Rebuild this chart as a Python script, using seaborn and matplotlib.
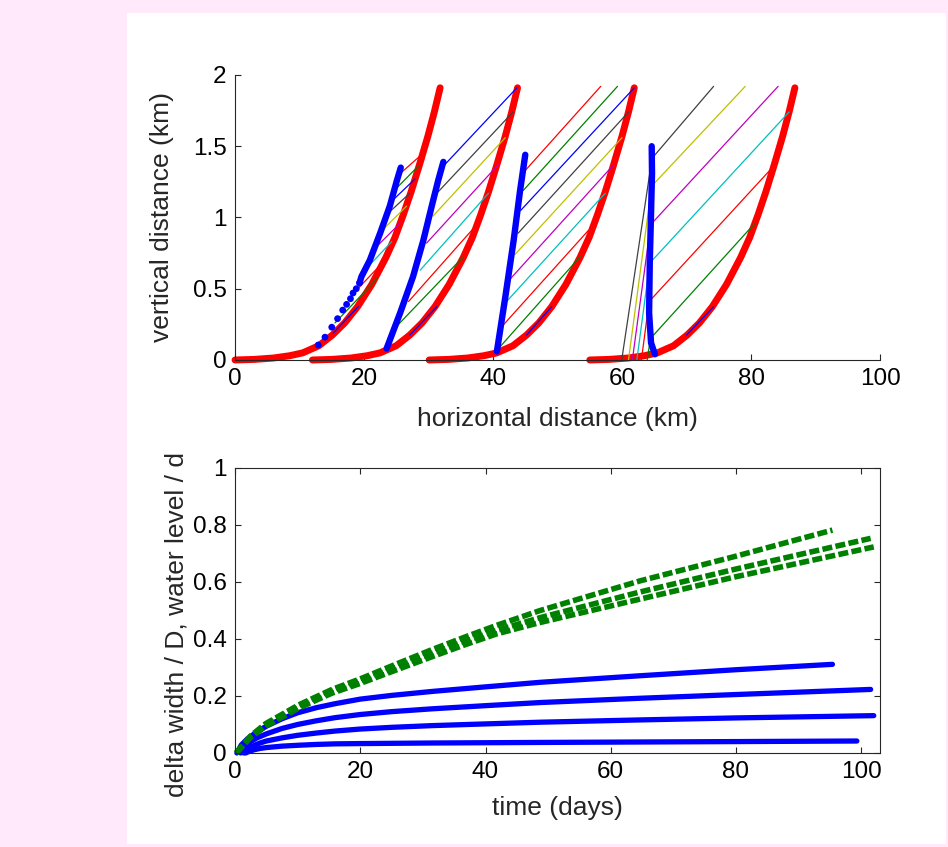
import matplotlib.pyplot as plt
import matplotlib.patches as mpatches
import pandas as pd
import seaborn as sns

# ---- top panel: bed profile (km), same shape for each snapshot, shifted in x
bed_x = [0, 3, 6, 8.5, 10.5, 13, 15.1, 17, 19.0, 21.2, 23.4, 24.8, 26.1, 27.3, 28.6, 29.9, 30.9, 31.8]
bed_y = [0, 0.004, 0.014, 0.03, 0.05, 0.1, 0.175, 0.26, 0.374, 0.53, 0.72, 0.86, 1.02, 1.18, 1.37, 1.57, 1.74, 1.91]
bed_shift = [0.0, 12.0, 30.1, 55.0]

# fronts (thick blue)
front1_dot_x = [12.9, 13.95, 15.0, 15.9, 16.7, 17.3, 17.9, 18.3, 18.8, 19.3]
front1_dot_y = [0.105, 0.16, 0.23, 0.29, 0.35, 0.39, 0.43, 0.47, 0.50, 0.54]
front1_x = [19.3, 19.6, 20.9, 22.5, 24.0, 25.1, 25.7]
front1_y = [0.54, 0.585, 0.70, 0.89, 1.08, 1.26, 1.35]
front2_x = [23.5, 25.6, 27.6, 29.2, 30.5, 31.5, 32.3]
front2_y = [0.08, 0.33, 0.585, 0.84, 1.08, 1.26, 1.39]
front3_x = [40.6, 41.9, 43.2, 44.2, 45.0]
front3_y = [0.06, 0.44, 0.84, 1.19, 1.44]
front4_x = [65.1, 64.5, 64.2, 64.3, 64.5, 64.65, 64.6]
front4_y = [0.04, 0.12, 0.33, 0.68, 1.03, 1.31, 1.50]

# thin foreset lines, colours cycle b g r c m y k
seg1_x0 = [15.2, 15.5, 18.0, 20.1, 21.6, 22.6, 23.5, 24.2, 24.7, 25.4]
seg1_y0 = [0.187, 0.26, 0.45, 0.63, 0.78, 0.90, 1.02, 1.11, 1.19, 1.30]
seg1_x1 = [19.1, 22.0, 22.4, 24.3, 25.6, 26.6, 27.1, 27.9, 28.4, 28.9]
seg1_y1 = [0.374, 0.57, 0.66, 0.83, 0.96, 1.08, 1.17, 1.27, 1.36, 1.44]

seg2_x0 = [27.1, 24.5, 26.9, 28.7, 29.7, 30.7, 31.5, 32.3]
seg2_y0 = [0.175, 0.21, 0.41, 0.63, 0.82, 1.01, 1.18, 1.36]
seg2_x1 = [31.3, 35.4, 36.9, 39.3, 40.8, 41.9, 43.1, 43.7]
seg2_y1 = [0.374, 0.725, 0.92, 1.17, 1.37, 1.56, 1.74, 1.91]

seg3_x0 = [45.2, 41.1, 41.6, 42.1, 42.7, 43.4, 43.9, 44.3, 44.7, 45.0]
seg3_y0 = [0.175, 0.093, 0.246, 0.41, 0.57, 0.74, 0.89, 1.05, 1.19, 1.33]
seg3_x1 = [49.1, 53.5, 54.8, 57.4, 58.7, 60.0, 61.0, 61.9, 59.3, 56.7]
seg3_y1 = [0.374, 0.725, 0.91, 1.17, 1.37, 1.56, 1.74, 1.91, 1.92, 1.92]

# last snapshot: short blue line, then g r c m y k bent lines (base -> front -> end)
seg4_short_x = [70.0, 74.2]
seg4_short_y = [0.175, 0.374]
fan4_base_x = [63.9, 63.0, 62.3, 61.6, 61.0, 59.95]
fan4_mid_x = [64.4, 64.2, 64.3, 64.45, 64.6, 64.65]
fan4_mid_y = [0.15, 0.41, 0.68, 0.95, 1.22, 1.415]
fan4_end_x = [80.6, 83.2, 85.9, 84.2, 79.1, 74.2]
fan4_end_y = [0.96, 1.345, 1.74, 1.92, 1.92, 1.92]

# ---- bottom panel: time (days) vs normalised values
b1_t = [0.3, 1, 2, 3.5, 5, 7.5, 10, 13, 16, 20, 25, 31.5, 40, 48.75, 64.7, 79.9, 95.4]
b1_v = [0, 0.028, 0.05, 0.074, 0.094, 0.12, 0.141, 0.159, 0.173, 0.189, 0.202, 0.216, 0.232, 0.248, 0.271, 0.292, 0.311]
b2_t = [0.9, 1.5, 2.5, 3.5, 5, 7.5, 10, 13, 16, 20, 25, 31.5, 40, 48.75, 64.7, 79.9, 101.5]
b2_v = [0, 0.022, 0.04, 0.053, 0.067, 0.086, 0.1, 0.113, 0.124, 0.135, 0.145, 0.155, 0.166, 0.177, 0.192, 0.205, 0.223]
b3_t = [1.4, 2, 3, 4, 5, 7.5, 10, 13, 16, 20, 25, 31.5, 40, 48.75, 64.7, 79.9, 102]
b3_v = [0, 0.013, 0.026, 0.035, 0.042, 0.053, 0.062, 0.07, 0.077, 0.084, 0.09, 0.096, 0.102, 0.108, 0.116, 0.123, 0.131]
b4_t = [1.7, 2.3, 3, 4, 5, 7.5, 10, 13, 16, 20, 31.5, 48.75, 79.9, 99.3]
b4_v = [0, 0.006, 0.011, 0.016, 0.019, 0.024, 0.027, 0.030, 0.032, 0.033, 0.035, 0.037, 0.040, 0.042]

g1_t = [0.2, 2.5, 4.9, 10.2, 15.5, 20, 26.2, 31.5, 36.5, 41.8, 48.75, 64.7, 79.9, 95.4]
g1_v = [0.0, 0.06, 0.103, 0.169, 0.223, 0.26, 0.316, 0.363, 0.405, 0.448, 0.50, 0.604, 0.69, 0.782]
g2_t = [0.2, 2.5, 4.9, 10.2, 15.5, 20, 26.2, 31.5, 36.5, 41.8, 48.75, 64.7, 79.9, 101.5]
g2_v = [0.0, 0.058, 0.099, 0.164, 0.217, 0.252, 0.305, 0.35, 0.39, 0.43, 0.475, 0.565, 0.645, 0.753]
g3_t = [0.2, 2.5, 4.9, 10.2, 15.5, 20, 26.2, 31.5, 36.5, 41.8, 48.75, 64.7, 79.9, 102]
g3_v = [0.0, 0.055, 0.094, 0.158, 0.21, 0.244, 0.295, 0.338, 0.378, 0.418, 0.458, 0.54, 0.618, 0.723]

mcolors = ["#0000ff", "#008000", "#ff0000", "#00bfbf", "#bf00bf", "#bfbf00", "#404040"]
pink = "#ffe9fa"

sns.set_style("ticks")
plt.rcParams["font.family"] = ["Liberation Sans", "DejaVu Sans"]
plt.rcParams["axes.edgecolor"] = "#262626"
plt.rcParams["axes.linewidth"] = 0.8

fig = plt.figure(figsize=(9.48, 8.47), dpi=100, facecolor=pink)
fig.patches.append(mpatches.Rectangle((0.134, 0.0035), 0.864, 0.981, transform=fig.transFigure,
                                      facecolor="white", edgecolor="none", zorder=-10))

ax1 = fig.add_axes([0.2479, 0.575, 0.6804, 0.3365])
ax2 = fig.add_axes([0.2479, 0.111, 0.6804, 0.3365])
for ax in (ax1, ax2):
    ax.set_facecolor("white")

# --- top panel
bed = pd.concat([pd.DataFrame({"x": [v + s for v in bed_x], "y": bed_y, "snap": i})
                 for i, s in enumerate(bed_shift)])
sns.lineplot(data=bed, x="x", y="y", units="snap", estimator=None, sort=False,
             color="red", linewidth=5, ax=ax1, clip_on=False, zorder=2)

for xs0, ys0, xs1, ys1 in [(seg1_x0, seg1_y0, seg1_x1, seg1_y1),
                           (seg2_x0, seg2_y0, seg2_x1, seg2_y1),
                           (seg3_x0, seg3_y0, seg3_x1, seg3_y1)]:
    for i in range(len(xs0)):
        ax1.plot([xs0[i], xs1[i]], [ys0[i], ys1[i]], color=mcolors[i % 7], lw=0.9, zorder=3)

ax1.plot(seg4_short_x, seg4_short_y, color=mcolors[0], lw=0.9, zorder=3)
for i in range(len(fan4_base_x)):
    ax1.plot([fan4_base_x[i], fan4_mid_x[i], fan4_end_x[i]], [0, fan4_mid_y[i], fan4_end_y[i]],
             color=mcolors[i + 1], lw=0.9, zorder=3)

fronts = pd.concat([pd.DataFrame({"x": fx, "y": fy, "snap": i}) for i, (fx, fy) in
                    enumerate([(front1_x, front1_y), (front2_x, front2_y),
                               (front3_x, front3_y), (front4_x, front4_y)])])
sns.lineplot(data=fronts, x="x", y="y", units="snap", estimator=None, sort=False,
             color="blue", linewidth=4.6, ax=ax1, zorder=4, solid_capstyle="round")
sns.scatterplot(x=front1_dot_x, y=front1_dot_y, color="blue", s=24, edgecolor="none", ax=ax1, zorder=4)

ax1.set_xlim(0, 100)
ax1.set_ylim(0, 2)
ax1.set_xticks([0, 20, 40, 60, 80, 100])
ax1.set_yticks([0, 0.5, 1, 1.5, 2])
ax1.set_yticklabels(["0", "0.5", "1", "1.5", "2"])
sns.despine(ax=ax1)
ax1.set_xlabel("horizontal distance (km)", fontsize=19)
ax1.set_ylabel("vertical distance (km)", fontsize=19)
ax1.xaxis.set_label_coords(0.5, -0.165)
ax1.yaxis.set_label_coords(-0.094, 0.5)

# --- bottom panel
for t, v in [(b1_t, b1_v), (b2_t, b2_v), (b3_t, b3_v), (b4_t, b4_v)]:
    sns.lineplot(x=t, y=v, sort=False, estimator=None, color="blue", linewidth=3.8, ax=ax2, clip_on=False)
for t, v in [(g1_t, g1_v), (g2_t, g2_v), (g3_t, g3_v)]:
    sns.lineplot(x=t, y=v, sort=False, estimator=None, color="#008000", linewidth=4,
                 linestyle=(0, (1.8, 0.6)), ax=ax2, clip_on=False)

ax2.set_xlim(0, 103)
ax2.set_ylim(0, 1)
ax2.set_xticks([0, 20, 40, 60, 80, 100])
ax2.set_yticks([0, 0.2, 0.4, 0.6, 0.8, 1])
ax2.set_yticklabels(["0", "0.2", "0.4", "0.6", "0.8", "1"])
for side in ("top", "right", "bottom", "left"):
    ax2.spines[side].set_visible(True)
    ax2.spines[side].set_color("#262626")
    ax2.spines[side].set_linewidth(0.8)
ax2.set_xlabel("time (days)", fontsize=19)
ax2.set_ylabel("delta width / D, water level / d", fontsize=19)
ax2.xaxis.set_label_coords(0.5, -0.15)
ax2.yaxis.set_label_coords(-0.072, 0.45)

for ax in (ax1, ax2):
    ax.tick_params(direction="in", length=4.5, width=0.8, labelsize=17.5, pad=6, colors="#262626",
                   labelcolor="black")
ax2.tick_params(top=True, right=True)

fig.savefig("out.png", dpi=100, facecolor=pink)
